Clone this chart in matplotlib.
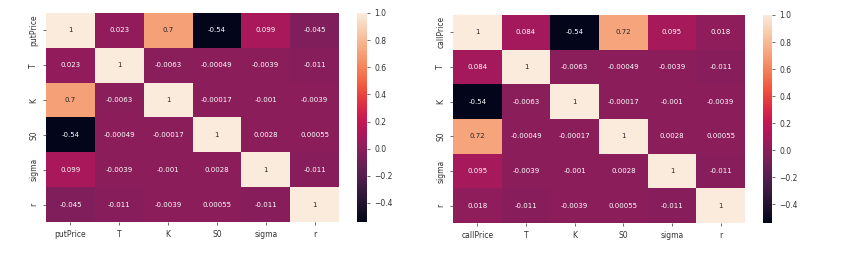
import matplotlib
matplotlib.use("Agg")
import matplotlib.pyplot as plt
import numpy as np
import pandas as pd
import seaborn as sns

put_labels = ["putPrice", "T", "K", "S0", "sigma", "r"]
call_labels = ["callPrice", "T", "K", "S0", "sigma", "r"]

put_corr = [
    [1, 0.023, 0.7, -0.54, 0.099, -0.045],
    [0.023, 1, -0.0063, -0.00049, -0.0039, -0.011],
    [0.7, -0.0063, 1, -0.00017, -0.001, -0.0039],
    [-0.54, -0.00049, -0.00017, 1, 0.0028, 0.00055],
    [0.099, -0.0039, -0.001, 0.0028, 1, -0.011],
    [-0.045, -0.011, -0.0039, 0.00055, -0.011, 1],
]
call_corr = [
    [1, 0.084, -0.54, 0.72, 0.095, 0.018],
    [0.084, 1, -0.0063, -0.00049, -0.0039, -0.011],
    [-0.54, -0.0063, 1, -0.00017, -0.001, -0.0039],
    [0.72, -0.00049, -0.00017, 1, 0.0028, 0.00055],
    [0.095, -0.0039, -0.001, 0.0028, 1, -0.011],
    [0.018, -0.011, -0.0039, 0.00055, -0.011, 1],
]

W, H = 848, 265
fig = plt.figure(figsize=(W / 100, H / 100), dpi=100)

def box(x0, y0, x1, y1):
    return [x0 / W, (H - y1) / H, (x1 - x0) / W, (y1 - y0) / H]

panels = [
    (put_corr, put_labels, box(46, 13, 339, 222), box(357, 13, 367, 222)),
    (call_corr, call_labels, box(453, 15, 745, 223), box(763, 15, 772, 223)),
]

for data, labels, axpos, cbpos in panels:
    df = pd.DataFrame(data, index=labels, columns=labels)
    ax = fig.add_axes(axpos)
    cax = fig.add_axes(cbpos)
    sns.heatmap(df, annot=True, ax=ax, cbar_ax=cax, annot_kws={"fontsize": 5})
    ax.tick_params(labelsize=5.5, length=2, width=0.5, colors="#333333")
    cax.tick_params(labelsize=5.5, length=2, width=0.5, colors="#333333")
    cax.set_yticks([-0.4, -0.2, 0.0, 0.2, 0.4, 0.6, 0.8, 1.0])

fig.savefig("out.png", dpi=100)
